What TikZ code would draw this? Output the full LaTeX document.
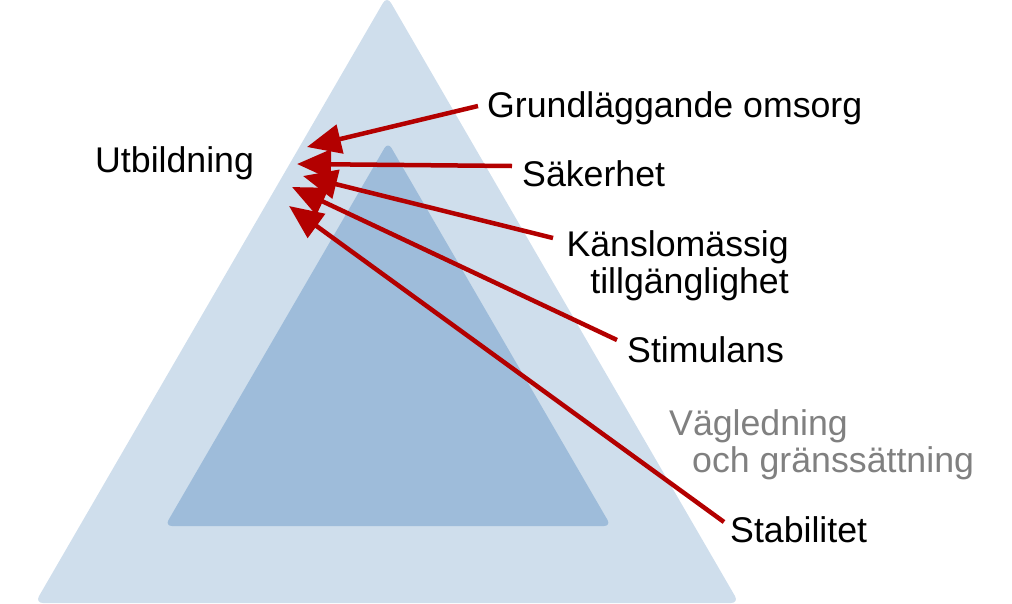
\documentclass[tikz,border=0pt]{standalone}
\usepackage{fontspec}
\setmainfont{Liberation Sans}
\usetikzlibrary{arrows.meta}
\definecolor{outerblue}{HTML}{CFDEEC}
\definecolor{innerblue}{HTML}{9EBCDA}
\definecolor{arrowred}{HTML}{B30000}
\definecolor{labelgray}{HTML}{808080}
\tikzset{
  lbl/.style={inner sep=0pt, font=\fontsize{35.7}{37}\selectfont, text=black},
  graylbl/.style={lbl, text=labelgray},
  redarrow/.style={draw=arrowred, line width=4.5pt, -{Triangle[length=34pt,width=29pt]}},
}
\begin{document}
\begin{tikzpicture}[x=1pt,y=-1pt]
\useasboundingbox (0,0) rectangle (1012,603);
% triangles
\fill[outerblue, rounded corners=8pt] (387,-4) -- (739,603) -- (35,603) -- cycle;
\fill[innerblue, rounded corners=7pt] (388,142) -- (611,526) -- (165,526) -- cycle;
% labels
\node[lbl, anchor=base west] (util) at (95,172) {Utbildning};
\node[lbl, anchor=base west] (grund) at (487,117) {Grundläggande omsorg};
\node[lbl, anchor=base west] (sak) at (522,186) {Säkerhet};
\node[lbl, anchor=base east, align=right] (kansl) at (789,293) {Känslomässig\\tillgänglighet};
\node[lbl, anchor=base west] (stim) at (627,362) {Stimulans};
\node[graylbl, anchor=base west, align=left] (vag) at (669,472) {Vägledning\\\hspace*{23pt}och gränssättning};
\node[lbl, anchor=base west] (stab) at (730,542) {Stabilitet};
% arrow ends
\coordinate (g0) at (478,106);
\coordinate (g1) at (307,147);
\coordinate (s0) at (512,166);
\coordinate (s1) at (297,164);
\coordinate (k0) at (553,238);
\coordinate (k1) at (303,176);
\coordinate (m0) at (617,340);
\coordinate (m1) at (292,187);
\coordinate (b0) at (724,522);
\coordinate (b1) at (289,206);
\draw[redarrow] (b0) -- (b1);
\draw[redarrow] (m0) -- (m1);
\draw[redarrow] (k0) -- (k1);
\draw[redarrow] (s0) -- (s1);
\draw[redarrow] (g0) -- (g1);
\end{tikzpicture}
\end{document}
